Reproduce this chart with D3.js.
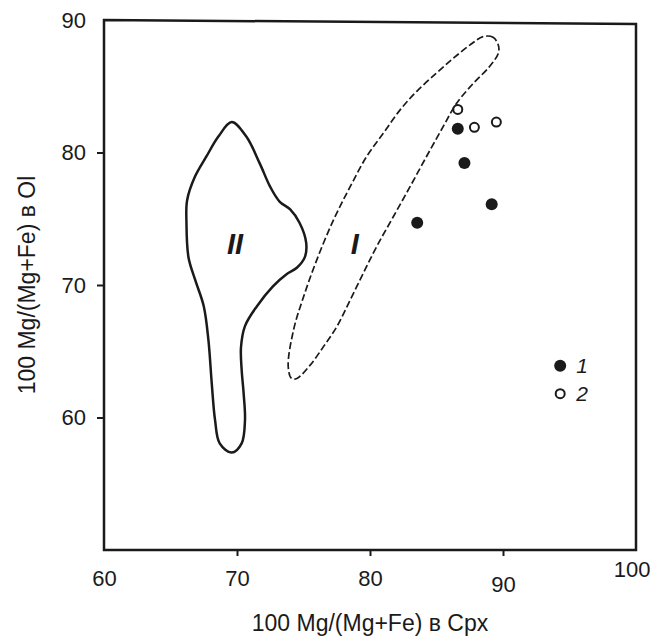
<!DOCTYPE html>
<meta charset="utf-8">
<html>
<head>
    <script src="https://d3js.org/d3.v7.min.js"></script>
    <style>
        body { margin: 0; background: #fff; }
        text { font-family: "Liberation Sans", Arial, sans-serif; fill: #1a1a1a; }
    </style>
</head>
<body>
    <script>
        // axis ticks
        const xTicks = [60, 70, 80, 90, 100];
        const yTicks = [60, 70, 80, 90];

        // group 1 (filled) and group 2 (open) samples: [Cpx, Ol]
        const group1 = [[86.6, 81.8], [87.1, 79.2], [89.15, 76.1], [83.55, 74.7]];
        const group2 = [[86.6, 83.25], [87.85, 81.9], [89.5, 82.3]];

        // field II outline (solid)
        const fieldII = [
            [69.6, 82.3], [70.7, 81.2], [71.7, 79.2], [72.5, 77.4], [73.2, 76.3], [74.0, 75.7],
            [74.7, 74.7], [75.2, 73.2], [75.1, 72.1], [74.5, 71.3], [73.7, 70.8], [72.7, 69.9],
            [71.5, 68.4], [70.6, 66.9], [70.3, 65.3], [70.35, 63.6], [70.5, 61.8], [70.6, 59.8],
            [70.35, 58.05], [69.6, 57.35], [68.7, 58.05], [68.35, 59.8], [68.1, 62.6], [67.85, 65.85],
            [67.5, 68.4], [66.85, 70.4], [66.35, 72.1], [66.2, 74.7], [66.25, 76.4], [66.85, 78.2],
            [67.7, 79.7], [68.6, 81.2]
        ];

        // field I outline (dashed)
        const fieldI = [
            [89.65, 88.1], [89.25, 88.7], [88.5, 88.75], [87.5, 88.1], [86.25, 87.1], [85.0, 86.0],
            [83.5, 84.6], [82.25, 83.2], [81.0, 81.45], [79.75, 79.7], [78.5, 77.4], [77.25, 74.9],
            [76.0, 71.9], [75.0, 69.1], [74.25, 66.6], [73.85, 63.85], [74.1, 62.95], [74.5, 62.95],
            [75.5, 63.95], [76.5, 65.35], [77.5, 66.85], [78.5, 68.85], [79.5, 70.9], [80.5, 72.9],
            [81.75, 75.15], [83.0, 77.4], [84.25, 79.7], [85.5, 81.95], [86.5, 83.7], [87.75, 85.2],
            [89.0, 86.5], [89.65, 87.5]
        ];

        const xTitle = "100 Mg/(Mg+Fe) в Cpx";
        const yTitle = "100 Mg/(Mg+Fe) в Ol";

        const width = 653, height = 639;
        const margin = { top: 20, right: 17, bottom: 89, left: 104 };

        const svg = d3.select('body').append('svg')
            .attr('width', width)
            .attr('height', height);

        const x = d3.scaleLinear().domain([60, 100]).range([margin.left, width - margin.right]);
        const y = d3.scaleLinear().domain([50, 90]).range([height - margin.bottom, margin.top]);

        // frame (top edge is slightly tilted in the original)
        svg.append('path')
            .attr('d', d3.line()([
                [x(60), y(90)], [x(100), y(89.7)], [x(100), y(50)], [x(60), y(50)]
            ]) + 'Z')
            .attr('fill', 'none')
            .attr('stroke', '#1a1a1a')
            .attr('stroke-width', 2.5);

        // x axis
        const xAxis = svg.append('g')
            .attr('transform', `translate(0,${y(50)})`)
            .call(d3.axisBottom(x).tickValues(xTicks).tickSize(6).tickPadding(14).tickFormat(d3.format('d')));
        xAxis.select('.domain').remove();
        xAxis.selectAll('line').attr('stroke', '#1a1a1a').attr('stroke-width', 2)
            .filter(d => d === 60 || d === 100).remove();
        xAxis.selectAll('text').style('font-size', '22px').attr('fill', '#1a1a1a')
            .attr('dx', d => d === 100 ? '-0.2em' : 0)
            .attr('dy', d => d === 100 ? '0.3em' : d === 90 ? '1.0em' : '0.72em');

        // y axis
        const yAxis = svg.append('g')
            .attr('transform', `translate(${x(60)},0)`)
            .call(d3.axisLeft(y).tickValues(yTicks).tickSize(7).tickPadding(11).tickFormat(d3.format('d')));
        yAxis.select('.domain').remove();
        yAxis.selectAll('line').attr('stroke', '#1a1a1a').attr('stroke-width', 2)
            .filter(d => d === 90).remove();
        yAxis.selectAll('text').style('font-size', '22px').attr('fill', '#1a1a1a');

        // titles
        svg.append('text')
            .attr('x', (x(60) + x(100)) / 2)
            .attr('y', 631)
            .attr('text-anchor', 'middle')
            .style('font-size', '23px')
            .text(xTitle);

        svg.append('text')
            .attr('transform', `translate(35,${(y(50) + y(90)) / 2}) rotate(-90)`)
            .attr('text-anchor', 'middle')
            .style('font-size', '23px')
            .text(yTitle);

        // fields
        const outline = d3.line()
            .x(d => x(d[0]))
            .y(d => y(d[1]))
            .curve(d3.curveCatmullRomClosed.alpha(0.5));

        svg.append('path')
            .attr('d', outline(fieldII))
            .attr('fill', 'none')
            .attr('stroke', '#1a1a1a')
            .attr('stroke-width', 2.5);

        svg.append('path')
            .attr('d', outline(fieldI))
            .attr('fill', 'none')
            .attr('stroke', '#1a1a1a')
            .attr('stroke-width', 1.7)
            .attr('stroke-dasharray', '7,3');

        svg.append('text')
            .attr('x', x(69.85)).attr('y', y(73.15))
            .attr('dy', '0.36em')
            .attr('text-anchor', 'middle')
            .style('font-size', '29px').style('font-weight', 'bold').style('font-style', 'italic')
            .text('II');

        svg.append('text')
            .attr('x', x(78.85)).attr('y', y(73.15))
            .attr('dy', '0.36em')
            .attr('text-anchor', 'middle')
            .style('font-size', '29px').style('font-weight', 'bold').style('font-style', 'italic')
            .text('I');

        // points
        svg.selectAll('circle.g1')
            .data(group1)
            .enter().append('circle')
            .attr('class', 'g1')
            .attr('cx', d => x(d[0]))
            .attr('cy', d => y(d[1]))
            .attr('r', 6)
            .attr('fill', '#1a1a1a');

        svg.selectAll('circle.g2')
            .data(group2)
            .enter().append('circle')
            .attr('class', 'g2')
            .attr('cx', d => x(d[0]))
            .attr('cy', d => y(d[1]))
            .attr('r', 4.5)
            .attr('fill', '#fff')
            .attr('stroke', '#1a1a1a')
            .attr('stroke-width', 2);

        // legend
        const legend = svg.append('g');
        legend.append('circle')
            .attr('cx', x(94.3)).attr('cy', y(63.9))
            .attr('r', 6).attr('fill', '#1a1a1a');
        legend.append('circle')
            .attr('cx', x(94.3)).attr('cy', y(61.8))
            .attr('r', 4.5).attr('fill', '#fff').attr('stroke', '#1a1a1a').attr('stroke-width', 2);
        legend.append('text')
            .attr('x', x(94.3) + 16).attr('y', y(63.9)).attr('dy', '0.36em')
            .style('font-size', '21px').style('font-style', 'italic')
            .text('1');
        legend.append('text')
            .attr('x', x(94.3) + 16).attr('y', y(61.8)).attr('dy', '0.36em')
            .style('font-size', '21px').style('font-style', 'italic')
            .text('2');
    </script>
</body>
</html>
